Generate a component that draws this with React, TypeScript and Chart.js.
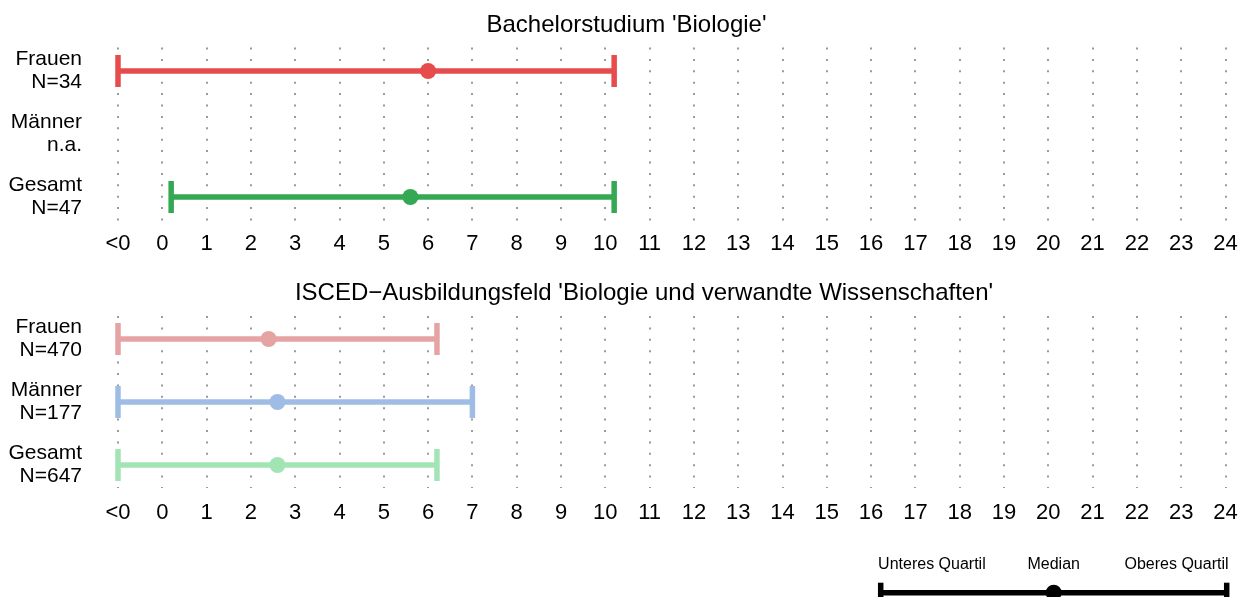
import React, { useEffect, useRef } from 'react';
import { Chart, registerables } from 'chart.js';

Chart.register(...registerables);

const FONT = "'Liberation Sans', Arial, Helvetica, sans-serif";

// ---- data ----
const groups = ['Frauen', 'Männer', 'Gesamt'];
const xTickLabels = ['<0', '0', '1', '2', '3', '4', '5', '6', '7', '8', '9', '10', '11', '12', '13', '14', '15', '16', '17', '18', '19', '20', '21', '22', '23', '24'];

const bachelorTitle = "Bachelorstudium 'Biologie'";
const bachelorN = ['N=34', 'n.a.', 'N=47'];
const bachelorLower = [-1, null, 0.2];
const bachelorMedian = [6.0, null, 5.6];
const bachelorUpper = [10.2, null, 10.2];
const bachelorColors = ['#E64C4C', '#E64C4C', '#34A853'];

const iscedTitle = "ISCED\u2212Ausbildungsfeld 'Biologie und verwandte Wissenschaften'";
const iscedN = ['N=470', 'N=177', 'N=647'];
const iscedLower = [-1, -1, -1];
const iscedMedian = [2.4, 2.6, 2.6];
const iscedUpper = [6.2, 7.0, 6.2];
const iscedColors = ['#E6A3A3', '#9EBCE4', '#A3E4B4'];

const legendLabels = ['Unteres Quartil', 'Median', 'Oberes Quartil'];
const legendLabelAt = [0.148, 0.5, 0.855];
const legendLower = 0;
const legendMedian = 0.5;
const legendUpper = 1;

// ---- plugin: panel title ----
const panelTitlePlugin = {
  id: 'panelTitle',
  afterDraw(chart: any, _args: any, opts: any) {
    if (!opts || !opts.text) return;
    const ctx = chart.ctx;
    ctx.save();
    ctx.font = `${opts.size}px ${FONT}`;
    ctx.fillStyle = '#000';
    ctx.textAlign = 'center';
    ctx.textBaseline = 'alphabetic';
    ctx.fillText(opts.text, opts.x, opts.y);
    ctx.restore();
  },
};

function buildDatasets(lower: any[], median: any[], upper: any[], colors: string[], capRadius: number) {
  const ds: any[] = [];
  lower.forEach((lo, i) => {
    if (lo === null || upper[i] === null) return;
    const c = colors[i];
    ds.push({
      type: 'scatter', showLine: true, order: 2, clip: false,
      data: [{ x: lo, y: i }, { x: upper[i], y: i }],
      borderColor: c, borderWidth: 5.5, pointRadius: 0, backgroundColor: c,
    });
    ds.push({
      type: 'scatter', order: 1, clip: false,
      data: [{ x: lo, y: i }, { x: upper[i], y: i }],
      pointStyle: 'line', rotation: 90, pointRadius: capRadius, borderColor: c, borderWidth: 5.5,
      backgroundColor: c,
    });
    if (median[i] !== null) {
      ds.push({
        type: 'scatter', order: 0, clip: false,
        data: [{ x: median[i], y: i }],
        pointStyle: 'circle', pointRadius: 8, backgroundColor: c, borderWidth: 0, borderColor: c,
      });
    }
  });
  return ds;
}

function panelConfig(p: any) {
  return {
    type: 'scatter',
    data: { datasets: buildDatasets(p.lower, p.median, p.upper, p.colors, 16) },
    plugins: [panelTitlePlugin],
    options: {
      animation: false,
      responsive: false,
      maintainAspectRatio: false,
      events: [],
      layout: { autoPadding: false, padding: { top: p.padTop, left: 0, right: 14.5, bottom: 0 } },
      plugins: {
        legend: { display: false },
        tooltip: { enabled: false },
        title: { display: false },
        panelTitle: { text: p.title, x: p.titleX, y: p.titleY, size: 24 },
      },
      scales: {
        x: {
          type: 'linear',
          min: -1,
          max: 24,
          afterBuildTicks: (s: any) => {
            s.ticks = xTickLabels.map((_, i) => ({ value: i - 1 }));
          },
          afterFit: (s: any) => {
            s.height = 42;
          },
          ticks: {
            autoSkip: false,
            maxRotation: 0,
            minRotation: 0,
            padding: 0,
            color: '#000',
            font: { family: FONT, size: 22, lineHeight: p.tickLineHeight },
            callback: (v: any) => xTickLabels[Math.round(Number(v)) + 1],
          },
          grid: { color: '#9a9a9a', lineWidth: 2, drawTicks: false },
          border: { display: false, dash: [2, 9.4] },
        },
        y: {
          type: 'linear',
          min: p.yMin,
          max: p.yMax,
          reverse: true,
          afterBuildTicks: (s: any) => {
            s.ticks = groups.map((_, i) => ({ value: i }));
          },
          afterFit: (s: any) => {
            s.width = 118;
            s.paddingTop = 0;
            s.paddingBottom = 0;
          },
          ticks: {
            autoSkip: false,
            padding: 36,
            color: '#000',
            font: { family: FONT, size: 21, lineHeight: 1.1 },
            callback: (v: any) => {
              const i = Math.round(Number(v));
              return [groups[i], p.nLabels[i]];
            },
          },
          grid: { display: false, drawTicks: false },
          border: { display: false },
        },
      },
    },
  };
}

function legendConfig() {
  return {
    type: 'scatter',
    data: {
      datasets: buildDatasets([legendLower], [legendMedian], [legendUpper], ['#000000'], 10),
    },
    options: {
      animation: false,
      responsive: false,
      maintainAspectRatio: false,
      events: [],
      layout: { autoPadding: false, padding: { top: 0, left: 880.7, right: 13.3, bottom: 4.6 } },
      plugins: { legend: { display: false }, tooltip: { enabled: false } },
      scales: {
        x: {
          type: 'linear',
          position: 'top',
          min: 0,
          max: 1,
          afterBuildTicks: (s: any) => {
            s.ticks = legendLabelAt.map((v) => ({ value: v }));
          },
          afterFit: (s: any) => {
            s.height = 46;
          },
          ticks: {
            autoSkip: false,
            maxRotation: 0,
            minRotation: 0,
            padding: 1.5,
            color: '#000',
            font: { family: FONT, size: 16 },
            callback: (_v: any, idx: number) => legendLabels[idx],
          },
          grid: { display: false, drawTicks: false },
          border: { display: false },
        },
        y: {
          type: 'linear',
          display: false,
          min: -1,
          max: 1,
        },
      },
    },
  };
}

function ChartCanvas({ config, width, height, top }: any) {
  const ref = useRef<HTMLCanvasElement | null>(null);
  useEffect(() => {
    if (!ref.current) return;
    const chart = new Chart(ref.current, config as any);
    return () => chart.destroy();
  }, []);
  return (
    <canvas
      ref={ref}
      width={width}
      height={height}
      style={{ position: 'absolute', left: 0, top, width, height, display: 'block' }}
    />
  );
}

export default function App() {
  const topCfg = panelConfig({
    title: bachelorTitle, titleX: 626.5, titleY: 31.7,
    nLabels: bachelorN, lower: bachelorLower, median: bachelorMedian, upper: bachelorUpper,
    colors: bachelorColors, padTop: 47.5, yMin: -0.373, yMax: 2.381, tickLineHeight: 2.05,
  });
  const bottomCfg = panelConfig({
    title: iscedTitle, titleX: 644, titleY: 37,
    nLabels: iscedN, lower: iscedLower, median: iscedMedian, upper: iscedUpper,
    colors: iscedColors, padTop: 53, yMin: -0.365, yMax: 2.365, tickLineHeight: 2.3,
  });
  const legCfg = legendConfig();
  return (
    <div style={{ position: 'absolute', left: 0, top: 0, width: 1240, height: 597, background: '#fff', overflow: 'hidden' }}>
      <ChartCanvas config={topCfg} width={1240} height={263} top={0} />
      <ChartCanvas config={bottomCfg} width={1240} height={267} top={263} />
      <ChartCanvas config={legCfg} width={1240} height={84} top={530} />
    </div>
  );
}
